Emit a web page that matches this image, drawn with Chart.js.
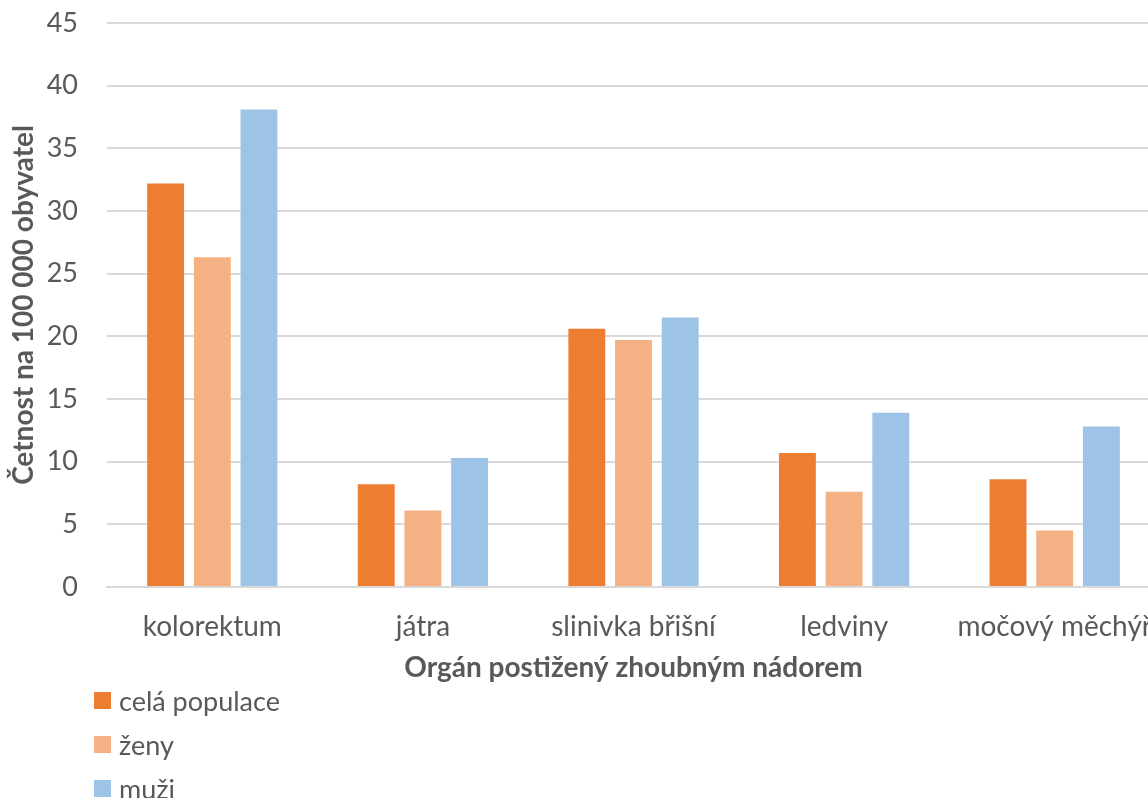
<!DOCTYPE html>
<html lang="cs">
<head>
<meta charset="utf-8">
<title>Četnost zhoubných nádorů</title>
<script src="https://cdn.jsdelivr.net/npm/chart.js@4"></script>
<style>
  html, body { margin: 0; padding: 0; background: #fff; overflow: hidden; }
  #wrap { position: relative; width: 1160px; height: 798px; }
  #legend { position: absolute; left: 94px; top: 678px; font-family: Lato, sans-serif; font-size: 27px; color: #595959; }
  #legend div { display: flex; align-items: center; height: 44px; }
  #legend span.box { width: 17px; height: 17px; margin-right: 8px; display: inline-block; }
</style>
</head>
<body>
<div id="wrap">
  <canvas id="organChart" width="1160" height="690"></canvas>
  <div id="legend"></div>
</div>
<script>
// categories and series
const organs = ['kolorektum', 'játra', 'slinivka břišní', 'ledviny', 'močový měchýř'];
const seriesNames = ['celá populace', 'ženy', 'muži'];
const wholePopulation = [32.2, 8.2, 20.6, 10.7, 8.6];
const women = [26.3, 6.1, 19.7, 7.6, 4.5];
const men = [38.1, 10.3, 21.5, 13.9, 12.8];
const seriesColors = ['#ED7D31', '#F4B183', '#9DC3E6'];

const textColor = '#595959';
const gridColor = '#D9D9D9';
const fontFamily = 'Lato, sans-serif';

const ctx = document.getElementById('organChart');

const organChart = new Chart(ctx, {
  type: 'bar',
  data: {
    labels: organs,
    datasets: [wholePopulation, women, men].map((values, i) => ({
      label: seriesNames[i],
      data: values,
      backgroundColor: seriesColors[i],
      borderWidth: 0,
      categoryPercentage: 0.665,
      barPercentage: 0.79
    }))
  },
  options: {
    responsive: false,
    animation: false,
    layout: { padding: { top: 23, left: 0, right: 0, bottom: 0 } },
    plugins: {
      legend: { display: false },
      tooltip: { enabled: false }
    },
    scales: {
      x: {
        grid: { display: false, drawTicks: false },
        border: { color: gridColor, width: 2 },
        ticks: { color: textColor, font: { family: fontFamily, size: 28 }, padding: 23, maxRotation: 0, autoSkip: false },
        title: {
          display: true,
          text: 'Orgán postižený zhoubným nádorem',
          color: textColor,
          font: { family: fontFamily, size: 28, weight: 'bold' },
          padding: { top: 0, bottom: 5 }
        },
        afterFit: scale => {
          scale.height = 103;
          // the last label may run past the right edge
          scale.paddingLeft = 0;
          scale.paddingRight = 0;
        }
      },
      y: {
        min: 0,
        max: 45,
        grid: { color: gridColor, lineWidth: 2, drawTicks: false },
        border: { display: false },
        ticks: { stepSize: 5, color: textColor, font: { family: fontFamily, size: 27 }, padding: 29 },
        title: {
          display: true,
          text: 'Četnost na 100 000 obyvatel',
          color: textColor,
          font: { family: fontFamily, size: 28, weight: 'bold' },
          padding: { top: 7, bottom: 0 }
        },
        afterFit: scale => {
          scale.width = 107;
          // label overhang is already covered by the layout padding
          scale.paddingTop = 0;
          scale.paddingBottom = 0;
        }
      }
    }
  }
});

// vertical legend under the chart, built from the datasets
const legendEl = document.getElementById('legend');
organChart.data.datasets.forEach(ds => {
  const row = document.createElement('div');
  const box = document.createElement('span');
  box.className = 'box';
  box.style.background = ds.backgroundColor;
  row.appendChild(box);
  row.appendChild(document.createTextNode(ds.label));
  legendEl.appendChild(row);
});
</script>
</body>
</html>
